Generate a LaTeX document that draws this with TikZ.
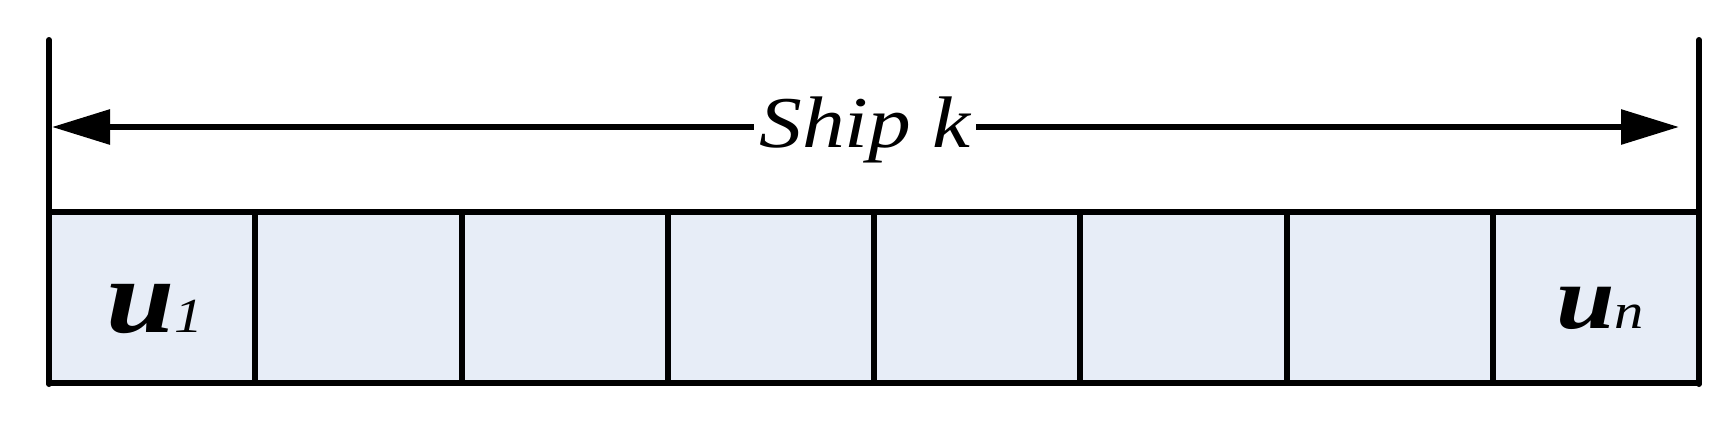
\documentclass[tikz,border=0pt]{standalone}
\usepackage{fontspec}
\setmainfont{Liberation Serif}[ItalicFont={Liberation Serif Italic}, BoldFont={Liberation Serif Bold}, BoldItalicFont={Liberation Serif Bold Italic}]
\usetikzlibrary{arrows.meta}
\definecolor{cellfill}{RGB}{231,237,247}
\tikzset{
  frame/.style={line width=6pt, line cap=round, line join=round},
  cell/.style={draw, line width=6pt, fill=cellfill, minimum width=206.25pt, minimum height=171pt, inner sep=0pt, line join=round},
  dim/.style={line width=6pt, {Triangle[length=58pt,width=34pt]}-{Triangle[length=58pt,width=34pt]}},
  lbl/.style={fill=white, inner xsep=5pt, inner ysep=4pt, anchor=base},
  ulbl/.style={anchor=base, inner sep=0pt},
}
\newcommand{\wide}[1]{\scalebox{1.17}[1]{#1}}
\begin{document}
\begin{tikzpicture}[x=1pt,y=-1pt]
\useasboundingbox (0,0) rectangle (1735,421);
% cells
\foreach \i in {1,...,8}{
  \node[cell] (c\i) at ({49+206.25*(\i-0.5)},297.5) {};
}
% side lines
\coordinate (lt) at (49,40);
\coordinate (lb) at (49,384);
\coordinate (rt) at (1699,40);
\coordinate (rb) at (1699,384);
\draw[frame] (lt) -- (lb);
\draw[frame] (rt) -- (rb);
% dimension arrow
\coordinate (al) at (52,127);
\coordinate (ar) at (1679,127);
\draw[dim] (al) -- (ar);
\node[lbl] (ship) at (865,147) {\wide{\fontsize{73}{78}\selectfont\itshape Ship k}};
% labels
\node[ulbl] (u1) at (155,332) {\wide{\fontsize{105}{110}\selectfont\bfseries\itshape u\fontsize{49}{55}\selectfont\mdseries 1}};
\node[ulbl] (un) at (1600,328) {\wide{\fontsize{90}{100}\selectfont\bfseries\itshape u\fontsize{50}{55}\selectfont\mdseries n}};
\end{tikzpicture}
\end{document}
